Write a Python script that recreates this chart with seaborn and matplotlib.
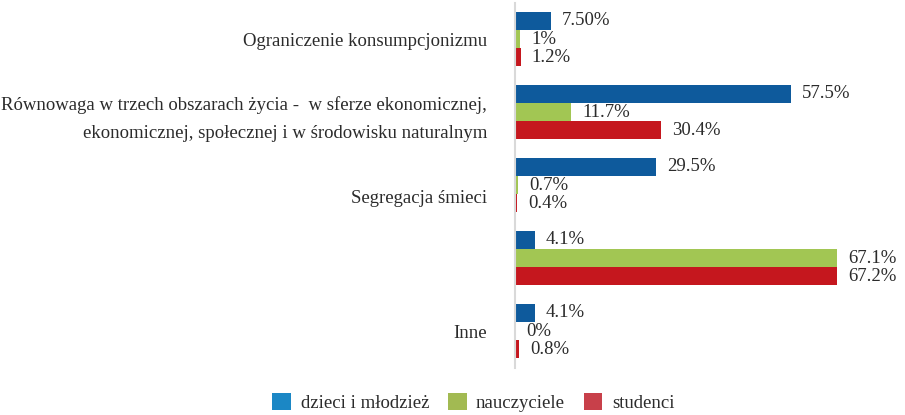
import pandas as pd
import numpy as np
import matplotlib
matplotlib.use("Agg")
import matplotlib.pyplot as plt
from matplotlib.patches import Patch
import seaborn as sns

# data
categories = [
    "Ograniczenie konsumpcjonizmu",
    "Równowaga w trzech obszarach życia -  w sferze ekonomicznej,\nekonomicznej, społecznej i w środowisku naturalnym",
    "Segregacja śmieci",
    "",
    "Inne",
]
groups = ["dzieci i młodzież", "nauczyciele", "studenci"]
dzieci = [7.5, 57.5, 29.5, 4.1, 4.1]
nauczyciele = [1.0, 11.7, 0.7, 67.1, 0.0]
studenci = [1.2, 30.4, 0.4, 67.2, 0.8]
dzieci_labels = ["7.50%", "57.5%", "29.5%", "4.1%", "4.1%"]
nauczyciele_labels = ["1%", "11.7%", "0.7%", "67.1%", "0%"]
studenci_labels = ["1.2%", "30.4%", "0.4%", "67.2%", "0.8%"]

bar_colors = ["#0E5A9C", "#A2C653", "#C5171E"]
legend_colors = ["#1B87C5", "#A2BA52", "#C8404A"]

df = pd.DataFrame({
    "kategoria": categories * 3,
    "grupa": np.repeat(groups, len(categories)),
    "procent": dzieci + nauczyciele + studenci,
})

sns.set_style("white")
plt.rcParams["font.family"] = ["Liberation Serif", "DejaVu Serif"]
text_color = "#2b2b2b"

fig = plt.figure(figsize=(9.05, 4.15), dpi=100)
ax = fig.add_axes([515 / 905, 1 - 367.5 / 415, 375 / 905, 365 / 415])

sns.barplot(data=df, y="kategoria", x="procent", hue="grupa", order=categories,
            hue_order=groups, palette=bar_colors, orient="h", width=0.75,
            linewidth=0, saturation=1, ax=ax, legend=False)

ax.set_xlim(0, 78.2)
ax.set_ylim(4.5, -0.5)
ax.set_xlabel("")
ax.set_ylabel("")
ax.set_xticks([])
for s in ["top", "right", "bottom"]:
    ax.spines[s].set_visible(False)
ax.spines["left"].set_color("#D9D9D9")
ax.spines["left"].set_linewidth(1.5)

# in the original the "Segregacja" label sits a bit below its group
tick_texts = list(categories)
tick_texts[2] = "\n" + tick_texts[2]
ax.set_yticks(range(len(categories)), labels=tick_texts)
ax.tick_params(axis="y", length=0, pad=20, labelsize=13.5, labelcolor=text_color)
for i, t in enumerate(ax.get_yticklabels()):
    t.set_linespacing(1.25 if i == 2 else 1.85)
    t.set_horizontalalignment("right")

all_labels = [dzieci_labels, nauczyciele_labels, studenci_labels]
for cont, labs in zip(ax.containers, all_labels):
    ax.bar_label(cont, labels=labs, padding=8, fontsize=13.5, color=text_color)

handles = [Patch(facecolor=c, edgecolor="none", label=g) for c, g in zip(legend_colors, groups)]
fig.legend(handles=handles, loc="center", bbox_to_anchor=(0.523, 0.031), ncol=3,
           frameon=False, fontsize=13.5, handlelength=1.0, handleheight=1.0,
           columnspacing=1.0, handletextpad=0.5, labelcolor=text_color,
           borderpad=0)

fig.savefig("out.png", dpi=100)
